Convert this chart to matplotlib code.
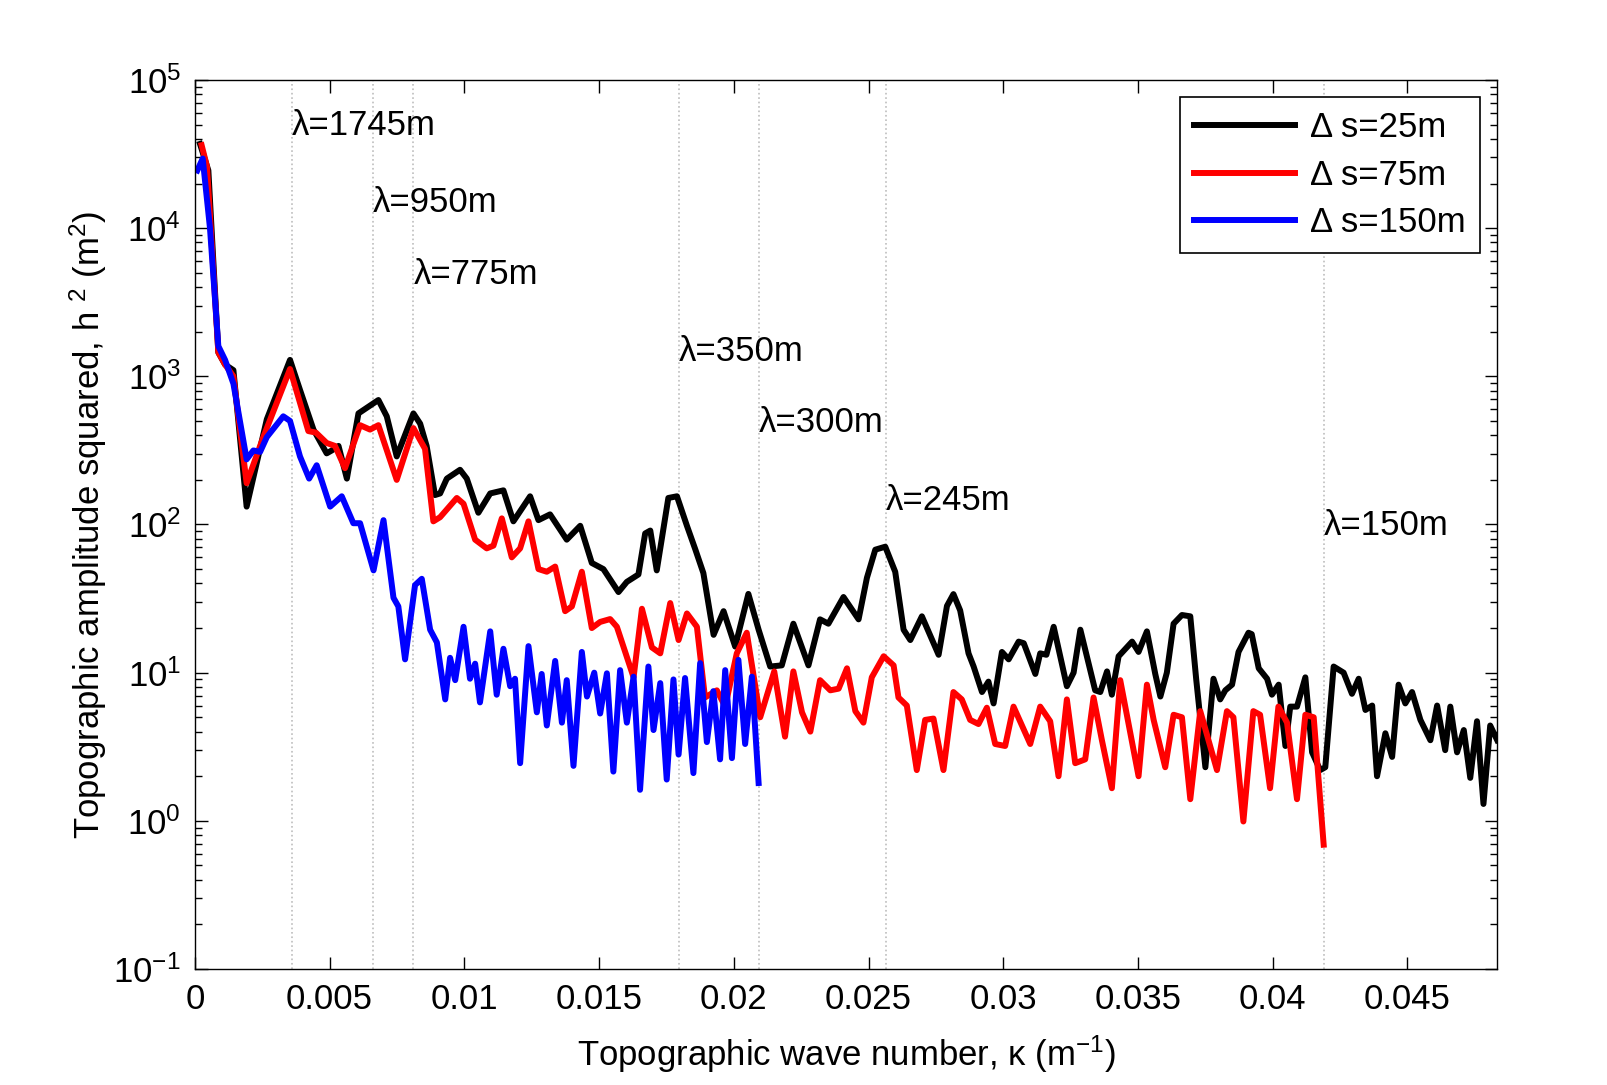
import numpy as np
import matplotlib
matplotlib.use('Agg')
import matplotlib.pyplot as plt
from matplotlib.ticker import FuncFormatter, LogLocator, MultipleLocator

# ---- data (wave number kappa, amplitude squared h^2) ----
k_25 = [0.00019, 0.0005, 0.00087, 0.00112, 0.00143, 0.00192, 0.00267, 0.00353, 0.0039, 0.0044,
        0.00489, 0.00508, 0.00533, 0.00564, 0.00607, 0.00681, 0.00712, 0.00749, 0.00811, 0.00836,
        0.0086, 0.00891, 0.0091, 0.00935, 0.00984, 0.01009, 0.01052, 0.01096, 0.01145, 0.01182,
        0.01244, 0.01275, 0.01318, 0.0138, 0.0143, 0.01473, 0.01516, 0.01572, 0.01603, 0.01646,
        0.01671, 0.0169, 0.01714, 0.01757, 0.01789, 0.01826, 0.01857, 0.01887, 0.01925, 0.01962,
        0.02005, 0.02054, 0.02092, 0.02135, 0.02178, 0.02221, 0.02277, 0.0232, 0.02351, 0.02407,
        0.02463, 0.02494, 0.02525, 0.02562, 0.02599, 0.0263, 0.02655, 0.02698, 0.0276, 0.02791,
        0.02815, 0.0284, 0.02871, 0.0289, 0.02921, 0.02945, 0.02964, 0.02995, 0.0302, 0.03057,
        0.03076, 0.03119, 0.03137, 0.0316, 0.03187, 0.03236, 0.03261, 0.03286, 0.03341, 0.0336,
        0.03385, 0.03403, 0.03428, 0.03478, 0.03502, 0.03533, 0.03564, 0.03583, 0.03607, 0.03632,
        0.03663, 0.03694, 0.03716, 0.0375, 0.0378, 0.03805, 0.03824, 0.03849, 0.03873, 0.0391,
        0.03922, 0.03948, 0.03979, 0.03997, 0.04022, 0.04047, 0.04065, 0.0409, 0.04121, 0.04146,
        0.04176, 0.04195, 0.04226, 0.04263, 0.04294, 0.04319, 0.04344, 0.04369, 0.04387, 0.04418,
        0.04443, 0.04467, 0.04492, 0.04517, 0.04548, 0.04585, 0.0461, 0.0464, 0.04659, 0.04684,
        0.04709, 0.04733, 0.04758, 0.04782, 0.04807, 0.04833]
h_25 = [37000, 24500, 1450, 1200, 1100, 132, 513, 1290, 810, 437,
        302, 316, 339, 204, 562, 692, 537, 288, 562, 479,
        339, 158, 162, 204, 234, 204, 120, 162, 170, 105,
        155, 107, 117, 79, 98, 55, 50, 35, 41, 46,
        87, 91, 49, 151, 155, 98, 68, 47, 18, 26,
        15, 34, 19.5, 11, 11.2, 21.4, 11.2, 22.9, 21.4, 32.4,
        22.9, 43.7, 67.6, 70.8, 47.9, 19.5, 16.6, 24, 13.2, 28.2,
        33.9, 26.3, 13.5, 11, 7.4, 8.7, 6.2, 13.8, 12.3, 16.2,
        15.8, 9.8, 13.5, 13.2, 20.4, 8.1, 10, 19.5, 7.6, 7.4,
        10.2, 7.1, 12.9, 16.2, 13.8, 19, 9.8, 6.9, 10, 21.4,
        24.5, 24, 9, 2.3, 9.1, 6.6, 7.6, 8.3, 13.8, 18.6,
        18.2, 10.7, 9.1, 7.1, 8.3, 3.2, 5.9, 5.9, 9.3, 2.9,
        2.2, 2.3, 11, 10, 7.2, 9.1, 5.6, 6, 2.0, 3.9,
        2.7, 8.3, 6.2, 7.4, 4.8, 3.5, 6, 3, 5.9, 2.9,
        4.1, 1.95, 4.7, 1.3, 4.4, 3.5]

k_75 = [0.00025, 0.00045, 0.00087, 0.00112, 0.00143, 0.00192, 0.00254, 0.00353, 0.00421, 0.00449,
        0.00489, 0.0052, 0.00557, 0.00613, 0.0065, 0.00681, 0.00749, 0.00811, 0.00854, 0.00885,
        0.0091, 0.00972, 0.00997, 0.0104, 0.01083, 0.01108, 0.01139, 0.01176, 0.01207, 0.01238,
        0.01275, 0.01306, 0.01337, 0.01374, 0.01399, 0.01436, 0.01473, 0.01504, 0.01541, 0.01566,
        0.01628, 0.01659, 0.01696, 0.01727, 0.01764, 0.01795, 0.01826, 0.01863, 0.01893, 0.01937,
        0.01968, 0.02011, 0.02048, 0.02098, 0.0215, 0.0219, 0.02221, 0.02253, 0.02284, 0.0232,
        0.02358, 0.02389, 0.0242, 0.02451, 0.02481, 0.02512, 0.02556, 0.02593, 0.02611, 0.02642,
        0.02679, 0.0271, 0.02741, 0.02778, 0.02815, 0.02846, 0.02877, 0.02908, 0.02939, 0.0297,
        0.03007, 0.03038, 0.031, 0.03137, 0.03174, 0.03205, 0.03236, 0.03267, 0.03304, 0.03335,
        0.03366, 0.03403, 0.03434, 0.03502, 0.03533, 0.03558, 0.03601, 0.03632, 0.03663, 0.03694,
        0.03731, 0.03793, 0.0383, 0.03854, 0.03891, 0.03928, 0.03953, 0.0399, 0.04021, 0.04053,
        0.0409, 0.04121, 0.04152, 0.04189]
h_75 = [36300, 26000, 1450, 1200, 1000, 190, 389, 1120, 427, 417,
        355, 339, 240, 468, 437, 468, 200, 447, 324, 105,
        112, 151, 138, 79, 69, 72, 110, 60, 69, 105,
        50, 48, 52, 26, 28, 48, 20, 22, 23, 20.4,
        9.3, 27, 14.8, 13.5, 29.5, 16.6, 25.1, 20.4, 6.8, 7.6,
        5.9, 13.5, 18.6, 5.0, 10.2, 3.7, 10.2, 5.4, 4.0, 8.9,
        7.6, 7.8, 10.7, 5.5, 4.6, 9.3, 12.9, 11.2, 6.8, 6.0,
        2.2, 4.8, 4.9, 2.2, 7.4, 6.6, 4.8, 4.5, 5.8, 3.3,
        3.2, 5.9, 3.3, 5.9, 4.7, 2.0, 6.6, 2.45, 2.6, 6.8,
        3.5, 1.66, 8.9, 2.0, 8.3, 4.8, 2.3, 5.2, 5.0, 1.4,
        5.5, 2.2, 5.5, 5.0, 0.99, 5.5, 5.2, 1.66, 5.9, 4.6,
        1.4, 5.2, 5.0, 0.69]

k_150 = [0.00009, 0.00029, 0.00056, 0.00087, 0.00112, 0.00143, 0.00192, 0.00217, 0.00242, 0.00267,
         0.00328, 0.00353, 0.0039, 0.00424, 0.00452, 0.00502, 0.00545, 0.00588, 0.00613, 0.00663,
         0.007, 0.00737, 0.00755, 0.0078, 0.00817, 0.00842, 0.00873, 0.00898, 0.00929, 0.00947,
         0.00966, 0.00997, 0.01021, 0.0104, 0.01058, 0.01096, 0.0112, 0.01145, 0.0117, 0.01188,
         0.01207, 0.01238, 0.01269, 0.01287, 0.01306, 0.01337, 0.01362, 0.0138, 0.01405, 0.01436,
         0.01455, 0.01482, 0.01504, 0.01529, 0.01553, 0.01578, 0.01603, 0.01628, 0.01652, 0.01683,
         0.01702, 0.01727, 0.01751, 0.01776, 0.01795, 0.01819, 0.0185, 0.01875, 0.019, 0.01924,
         0.01949, 0.01968, 0.01993, 0.02017, 0.02042, 0.02067, 0.02092]
h_150 = [24500, 29500, 10000, 1600, 1290, 891, 275, 316, 309, 389,
         537, 500, 288, 204, 251, 132, 155, 102, 102, 49,
         107, 32, 28, 12.3, 39, 43, 19.5, 16, 6.6, 12.6,
         8.9, 20.4, 9.1, 11.5, 6.3, 19, 7.1, 14.5, 8.1, 9.1,
         2.45, 15.1, 5.4, 9.8, 4.4, 12, 4.6, 8.9, 2.35, 13.8,
         6.9, 10, 5.3, 9.9, 2.15, 10.4, 4.6, 9.4, 1.62, 11,
         4.1, 8.5, 1.9, 9.0, 2.8, 9.2, 2.1, 11.6, 3.4, 7.5,
         2.6, 10.4, 2.65, 12.2, 3.3, 9.4, 1.8]

series_labels = ['\u0394 s=25m', '\u0394 s=75m', '\u0394 s=150m']

# marked wavelengths (m) and the height at which each label sits
wavelengths = [1745, 950, 775, 350, 300, 245, 150]
label_heights = [49600, 14800, 4840, 1466, 489, 146, 98]

plt.rcParams['font.family'] = ['Liberation Sans', 'DejaVu Sans']
plt.rcParams['mathtext.fontset'] = 'custom'
plt.rcParams['mathtext.rm'] = 'Liberation Sans'
plt.rcParams['mathtext.it'] = 'Liberation Sans:italic'
plt.rcParams['mathtext.default'] = 'regular'

FS = 25
LW = 4.3

fig = plt.figure(figsize=(16.08, 10.85), dpi=100)
ax = fig.add_axes([0.1212, 0.1069, 0.8099, 0.8194])

# vertical dotted markers at kappa = 2*pi/lambda
for lam, yh in zip(wavelengths, label_heights):
    kk = 2 * np.pi / lam
    ax.axvline(kk, color='#bdbdbd', linestyle=':', linewidth=1.2, zorder=0)
    ax.text(kk, yh, '\u03bb=%dm' % lam, fontsize=FS, ha='left', va='center')

ax.semilogy(k_25, h_25, color='black', linewidth=LW, label=series_labels[0])
ax.semilogy(k_75, h_75, color='#ff0000', linewidth=LW, label=series_labels[1])
ax.semilogy(k_150, h_150, color='#0000ff', linewidth=LW, label=series_labels[2])

ax.set_xlim(0, 0.04833)
ax.set_ylim(1e-1, 1e5)
ax.xaxis.set_major_locator(MultipleLocator(0.005))
ax.xaxis.set_major_formatter(FuncFormatter(lambda v, p: '%g' % round(v, 4)))
ax.yaxis.set_major_locator(LogLocator(base=10, numticks=10))
ax.yaxis.set_minor_locator(LogLocator(base=10, subs=np.arange(2, 10), numticks=20))

ax.tick_params(which='both', direction='in', top=True, right=True, labelsize=FS, width=1)
ax.tick_params(which='major', length=9, pad=10)
ax.tick_params(which='minor', length=5)
for sp in ax.spines.values():
    sp.set_linewidth(1)

ax.set_xlabel('Topographic wave number, \u03ba (m$^{-1}$)', fontsize=FS)
ax.set_ylabel('Topographic amplitude squared, h $^2$ (m$^2$)', fontsize=FS)
ax.xaxis.set_label_coords(0.5, -0.073)
ax.yaxis.set_label_coords(-0.066, 0.5)

leg = ax.legend(loc='upper right', fontsize=FS, frameon=True, fancybox=False,
                edgecolor='black', framealpha=1, handlelength=2.9, handletextpad=0.45,
                labelspacing=0.42, borderpad=0.4, borderaxespad=0.5)
leg.get_frame().set_linewidth(1.2)

fig.savefig('out.png', dpi=100)
